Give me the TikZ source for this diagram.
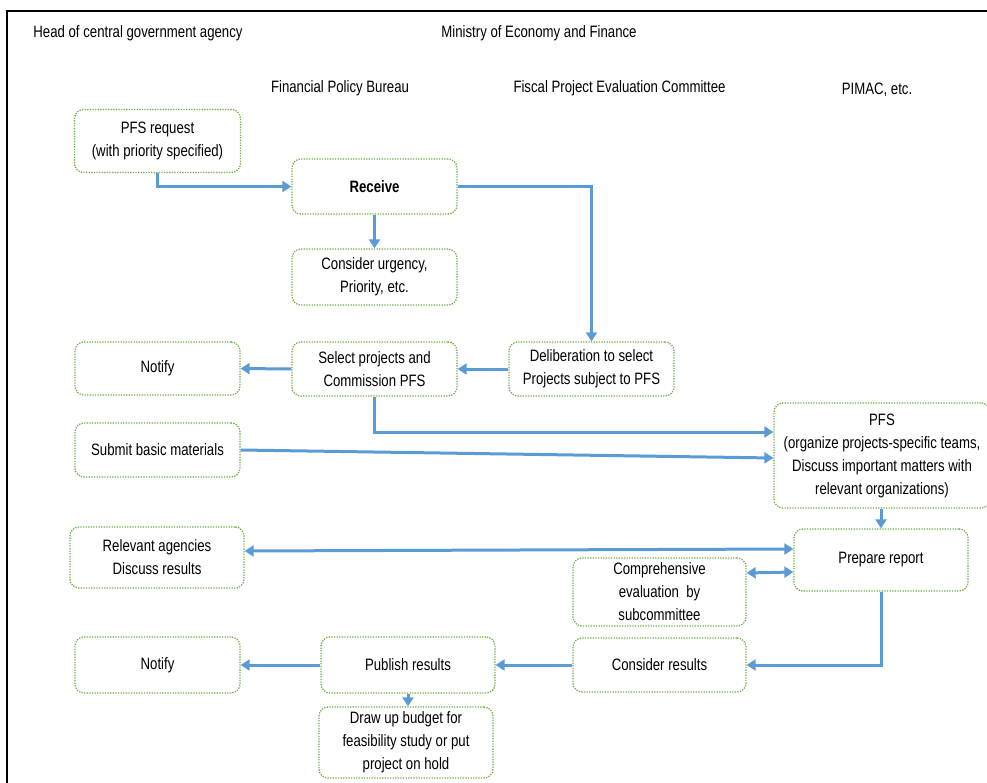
\documentclass[tikz,border=0pt]{standalone}
\usepackage{fontspec}
\setmainfont{Liberation Sans}[FakeStretch=0.8]
\usetikzlibrary{arrows.meta}
\definecolor{flowblue}{HTML}{5B9BD5}
\definecolor{boxgreen}{HTML}{70AD47}
\tikzset{
  stepbox/.style={draw=boxgreen, line width=1.3pt, dash pattern=on 1.3pt off 1.3pt,
    rounded corners=9pt, align=center, inner sep=0pt, text=black,
    font=\fontsize{16.5}{23}\selectfont},
  flow/.style={draw=flowblue, line width=3pt, ->},
  dflow/.style={draw=flowblue, line width=3pt, <->},
  head/.style={font=\fontsize{16.5}{20}\selectfont, inner sep=0pt, text=black},
  >={Triangle[length=9pt,width=11pt]}
}
\begin{document}
\begin{tikzpicture}[x=1pt,y=-1pt]
\useasboundingbox (0,0) rectangle (987,783);
\clip (0,0) rectangle (987,783);
\draw[line width=2pt] (7,11) rectangle (1000,800);

% column headings
\node[head] (hA) at (138,33.5) {Head of central government agency};
\node[head] (hB) at (539,33.5) {Ministry of Economy and Finance};
\node[head] (hC) at (340,88.5) {Financial Policy Bureau};
\node[head] (hD) at (619.5,88.5) {Fiscal Project Evaluation Committee};
\node[head] (hE) at (877,89.5) {PIMAC, etc.};

% process steps
\node[stepbox, minimum width=166pt, minimum height=63pt] (req) at (157.5,141) {PFS request\\(with priority specified)};
\node[stepbox, minimum width=165pt, minimum height=55pt] (recv) at (374.5,186.5) {\textbf{Receive}};
\node[stepbox, minimum width=165pt, minimum height=56pt] (urg) at (374.5,277) {Consider urgency,\\Priority, etc.};
\node[stepbox, minimum width=165pt, minimum height=54pt] (sel) at (374.5,369) {Select projects and\\Commission PFS};
\node[stepbox, minimum width=165pt, minimum height=54pt] (delib) at (591.5,369) {Deliberation to select\\Projects subject to PFS};
\node[stepbox, minimum width=165pt, minimum height=53pt] (notifyA) at (157.5,368.5) {Notify};
\node[stepbox, minimum width=165pt, minimum height=54pt] (submit) at (157.5,450) {Submit basic materials};
\node[stepbox, minimum width=216pt, minimum height=105pt] (pfs) at (882,455.5) {PFS\\(organize projects-specific teams,\\Discuss important matters with\\relevant organizations)};
\node[stepbox, minimum width=174pt, minimum height=62pt] (prep) at (881,560) {Prepare report};
\node[stepbox, minimum width=174pt, minimum height=61pt] (relev) at (157,557.5) {Relevant agencies\\Discuss results};
\node[stepbox, minimum width=173pt, minimum height=68pt] (comp) at (659.5,592) {Comprehensive\\evaluation\ \ by\\subcommittee};
\node[stepbox, minimum width=173pt, minimum height=54pt] (consres) at (659.5,665) {Consider results};
\node[stepbox, minimum width=165pt, minimum height=56pt] (notifyB) at (157.5,665) {Notify};
\node[stepbox, minimum width=174pt, minimum height=56pt] (publish) at (408,665) {Publish results};
\node[stepbox, minimum width=174pt, minimum height=71pt] (budget) at (406,742.5) {Draw up budget for\\feasibility study or put\\project on hold};

% connectors
\draw[flow] (req.south) |- (recv.west);
\draw[flow] (recv.east) -| (delib.north);
\draw[flow] (recv.south) -- (urg.north);
\draw[flow] (delib.west) -- (sel.east);
\draw[flow] (sel.west) -- (notifyA.east);
\draw[flow] (sel.south) |- ([yshift=23.5pt]pfs.west);
\draw[flow] (submit.east) -- ([yshift=-2.5pt]pfs.west);
\draw[flow] (prep.north |- pfs.south) -- (prep.north);
\draw[dflow] ([yshift=6.5pt]relev.east) -- ([yshift=11pt]prep.west);
\draw[dflow] ([yshift=19pt]comp.east) -- ([yshift=-12pt]prep.west);
\draw[flow] (prep.south) |- (consres.east);
\draw[flow] (consres.west) -- (publish.east);
\draw[flow] (publish.west) -- (notifyB.east);
\draw[flow] (publish.south) -- (publish.south |- budget.north);
\end{tikzpicture}
\end{document}
